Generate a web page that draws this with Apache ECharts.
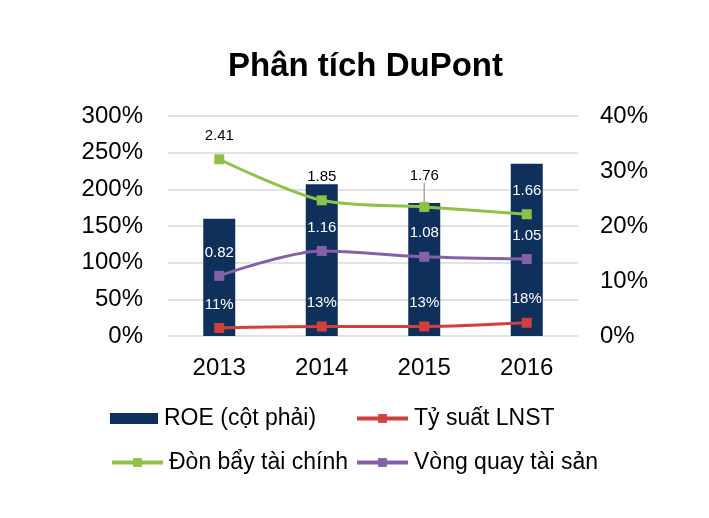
<!DOCTYPE html>
<html>
<head>
<meta charset="utf-8">
<script src="https://cdn.jsdelivr.net/npm/echarts@6/dist/echarts.min.js"></script>
<style>
html,body{margin:0;padding:0;background:#fff;}
#chart{width:709px;height:518px;}
</style>
</head>
<body>
<div id="chart"></div>
<script>
var categories = ['2013', '2014', '2015', '2016'];
var roe = [0.213, 0.276, 0.242, 0.313];          // ROE (right axis)
var margin = [0.11, 0.13, 0.13, 0.18];           // Tỷ suất LNST
var leverage = [2.41, 1.85, 1.76, 1.66];         // Đòn bẩy tài chính
var turnover = [0.82, 1.16, 1.08, 1.05];         // Vòng quay tài sản
var leftTicks = { min: 0, max: 3, interval: 0.5 };
var rightTicks = { min: 0, max: 0.4, interval: 0.1 };

var FONT = '"Liberation Sans", Arial, sans-serif';
var navy = '#10305C', red = '#D0413E', green = '#8FC049', purple = '#8460A8';

var chart = echarts.init(document.getElementById('chart'), null, { renderer: 'canvas' });

var leverageData = leverage.map(function (v, i) {
  var item = { value: v };
  if (i === 3) item.label = { color: '#fff' };
  if (i === 2) item.labelLine = { show: true, lineStyle: { color: '#a6a6a6', width: 1.5 } };
  return item;
});

var lineLabel = function (color) {
  return { show: true, position: 'top', distance: 11, color: color, fontFamily: FONT, fontSize: 15 };
};

var legendBase = function (name, left, top, w, h, isBar) {
  var l = {
    data: [name], left: left, top: top, itemWidth: w, itemHeight: h, itemGap: 0, padding: 0,
    textStyle: { fontFamily: FONT, fontSize: 23, color: '#000', padding: [0, 0, 0, 1] }
  };
  if (isBar) l.icon = 'rect';
  else l.lineStyle = { width: 4 };
  return l;
};

chart.setOption({
  animation: false,
  backgroundColor: '#fff',
  title: {
    text: 'Phân tích DuPont', left: 228, top: 50, padding: 0,
    textStyle: { fontFamily: FONT, fontSize: 33, fontWeight: 'bold', color: '#000' }
  },
  legend: [
    legendBase('ROE (cột phải)', 110, 407, 48, 11, true),
    legendBase('Tỷ suất LNST', 355, 407, 51, 11),
    legendBase('Đòn bẩy tài chính', 110, 451, 51, 11),
    legendBase('Vòng quay tài sản', 355, 451, 51, 11)
  ],
  grid: { left: 168, right: 131, top: 116, bottom: 182 },
  xAxis: {
    type: 'category', data: categories,
    axisLine: { show: false }, axisTick: { show: false },
    axisLabel: { fontFamily: FONT, fontSize: 24, color: '#000', margin: 20 }
  },
  yAxis: [
    {
      type: 'value', min: leftTicks.min, max: leftTicks.max, interval: leftTicks.interval,
      axisLine: { show: false }, axisTick: { show: false },
      splitLine: { lineStyle: { color: '#d9d9d9', width: 1.5 } },
      axisLabel: {
        fontFamily: FONT, fontSize: 24, color: '#000', margin: 25,
        formatter: function (v) { return Math.round(v * 100) + '%'; }
      }
    },
    {
      type: 'value', min: rightTicks.min, max: rightTicks.max, interval: rightTicks.interval,
      axisLine: { show: false }, axisTick: { show: false }, splitLine: { show: false },
      axisLabel: {
        fontFamily: FONT, fontSize: 24, color: '#000', margin: 22,
        formatter: function (v) { return Math.round(v * 100) + '%'; }
      }
    }
  ],
  series: [
    {
      name: 'ROE (cột phải)', type: 'bar', yAxisIndex: 1, data: roe, barWidth: 32,
      itemStyle: { color: navy }, z: 1
    },
    {
      name: 'Tỷ suất LNST', type: 'line', yAxisIndex: 0, data: margin, smooth: 0.3,
      symbol: 'rect', symbolSize: 10, showAllSymbol: true,
      lineStyle: { color: red, width: 3 }, itemStyle: { color: red },
      label: Object.assign(lineLabel('#fff'), { formatter: function (p) { return Math.round(p.value * 100) + '%'; } }),
      z: 3
    },
    {
      name: 'Đòn bẩy tài chính', type: 'line', yAxisIndex: 0, data: leverageData, smooth: 0.3,
      symbol: 'rect', symbolSize: 10,
      lineStyle: { color: green, width: 3 }, itemStyle: { color: green },
      label: Object.assign(lineLabel('#000'), { formatter: function (p) { return p.value.toFixed(2); } }),
      labelLayout: function (p) { return p.dataIndex === 2 ? { dy: -8 } : {}; },
      z: 3
    },
    {
      name: 'Vòng quay tài sản', type: 'line', yAxisIndex: 0, data: turnover, smooth: 0.3,
      symbol: 'rect', symbolSize: 10,
      lineStyle: { color: purple, width: 3 }, itemStyle: { color: purple },
      label: Object.assign(lineLabel('#fff'), { formatter: function (p) { return p.value.toFixed(2); } }),
      z: 3
    }
  ]
});
</script>
</body>
</html>
